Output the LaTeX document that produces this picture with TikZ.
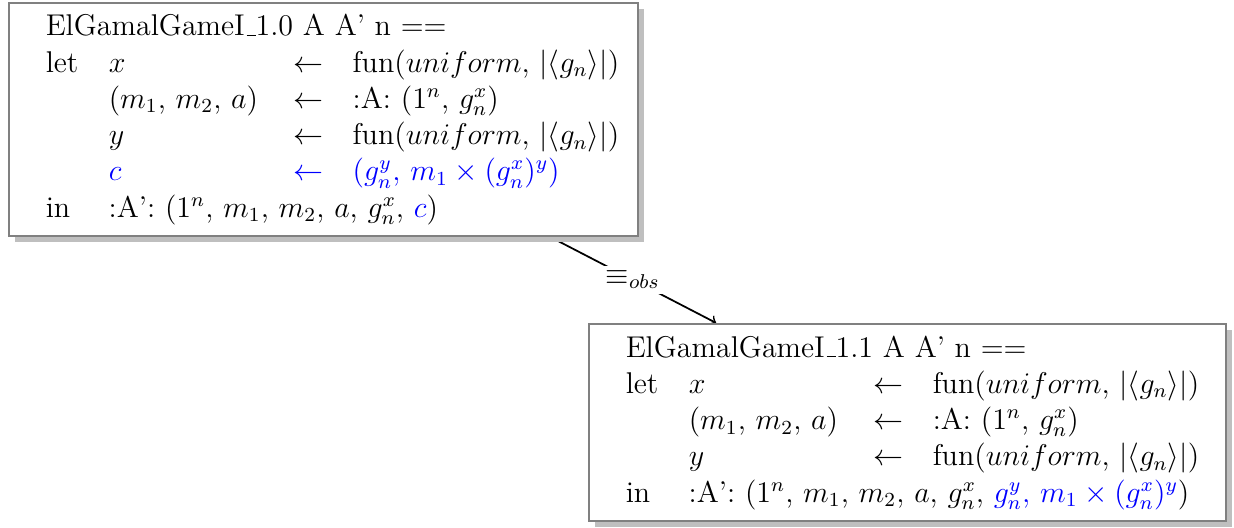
\documentclass[tikz,border=0pt]{standalone}
\usetikzlibrary{shadows,backgrounds}

% one drawing unit
\newlength\px
\setlength\px{0.4pt}

% short baseline underscore
\newcommand\usc{\leavevmode\kern.06em\vbox{\hrule width.3em}}

\tikzset{
  gamebox/.style={draw=black!50, line width=0.6pt, fill=white, inner sep=0pt, anchor=north west,
    drop shadow={shadow xshift=6.5\px, shadow yshift=-6.5\px, fill=black!25, draw=none, opacity=1},
    font=\fontsize{12}{14.5}\selectfont},
  conn/.style={->, black, line width=0.7pt},
  eqlabel/.style={fill=white, inner sep=2pt, font=\fontsize{12}{14.5}\selectfont}
}

\newcommand\gamecols{@{}p{63\px}@{}p{185\px}@{}p{59\px}@{}l@{}}

\begin{document}
\begin{tikzpicture}[x=0.4pt, y=-0.4pt]
\useasboundingbox (0,0) rectangle (1234,527);

% game 1.0
\node[gamebox, minimum width=629\px, minimum height=233\px] (g10) at (8,2) {%
\makebox[555\px][l]{%
\begin{tabular}{\gamecols}
\multicolumn{4}{@{}l@{}}{ElGamalGameI\usc1.0 A A' n ==}\\
let & $x$ & $\leftarrow$ & fun($uniform$, $|\langle g_n\rangle|$)\\
    & ($m_1$, $m_2$, $a$) & $\leftarrow$ & :A: ($1^n$, $g_n^x$)\\
    & $y$ & $\leftarrow$ & fun($uniform$, $|\langle g_n\rangle|$)\\
    & \textcolor{blue}{$c$} & \textcolor{blue}{$\leftarrow$} & \textcolor{blue}{($g_n^y$, $m_1\times(g_n^x)^y$)}\\
in  & \multicolumn{3}{@{}l@{}}{:A': ($1^n$, $m_1$, $m_2$, $a$, $g_n^x$, \textcolor{blue}{$c$})}
\end{tabular}}};

% game 1.1
\node[gamebox, minimum width=637\px, minimum height=197\px] (g11) at (588,323) {%
\makebox[563\px][l]{%
\begin{tabular}{\gamecols}
\multicolumn{4}{@{}l@{}}{ElGamalGameI\usc1.1 A A' n ==}\\
let & $x$ & $\leftarrow$ & fun($uniform$, $|\langle g_n\rangle|$)\\
    & ($m_1$, $m_2$, $a$) & $\leftarrow$ & :A: ($1^n$, $g_n^x$)\\
    & $y$ & $\leftarrow$ & fun($uniform$, $|\langle g_n\rangle|$)\\
in  & \multicolumn{3}{@{}l@{}}{:A': ($1^n$, $m_1$, $m_2$, $a$, $g_n^x$, \textcolor{blue}{$g_n^y$, $m_1\times(g_n^x)^y$})}
\end{tabular}}};

% observational equivalence
\begin{scope}[on background layer]
\draw[conn] (g10) -- node[eqlabel] (eq) {$\equiv_{obs}$} (g11);
\end{scope}
\end{tikzpicture}
\end{document}
